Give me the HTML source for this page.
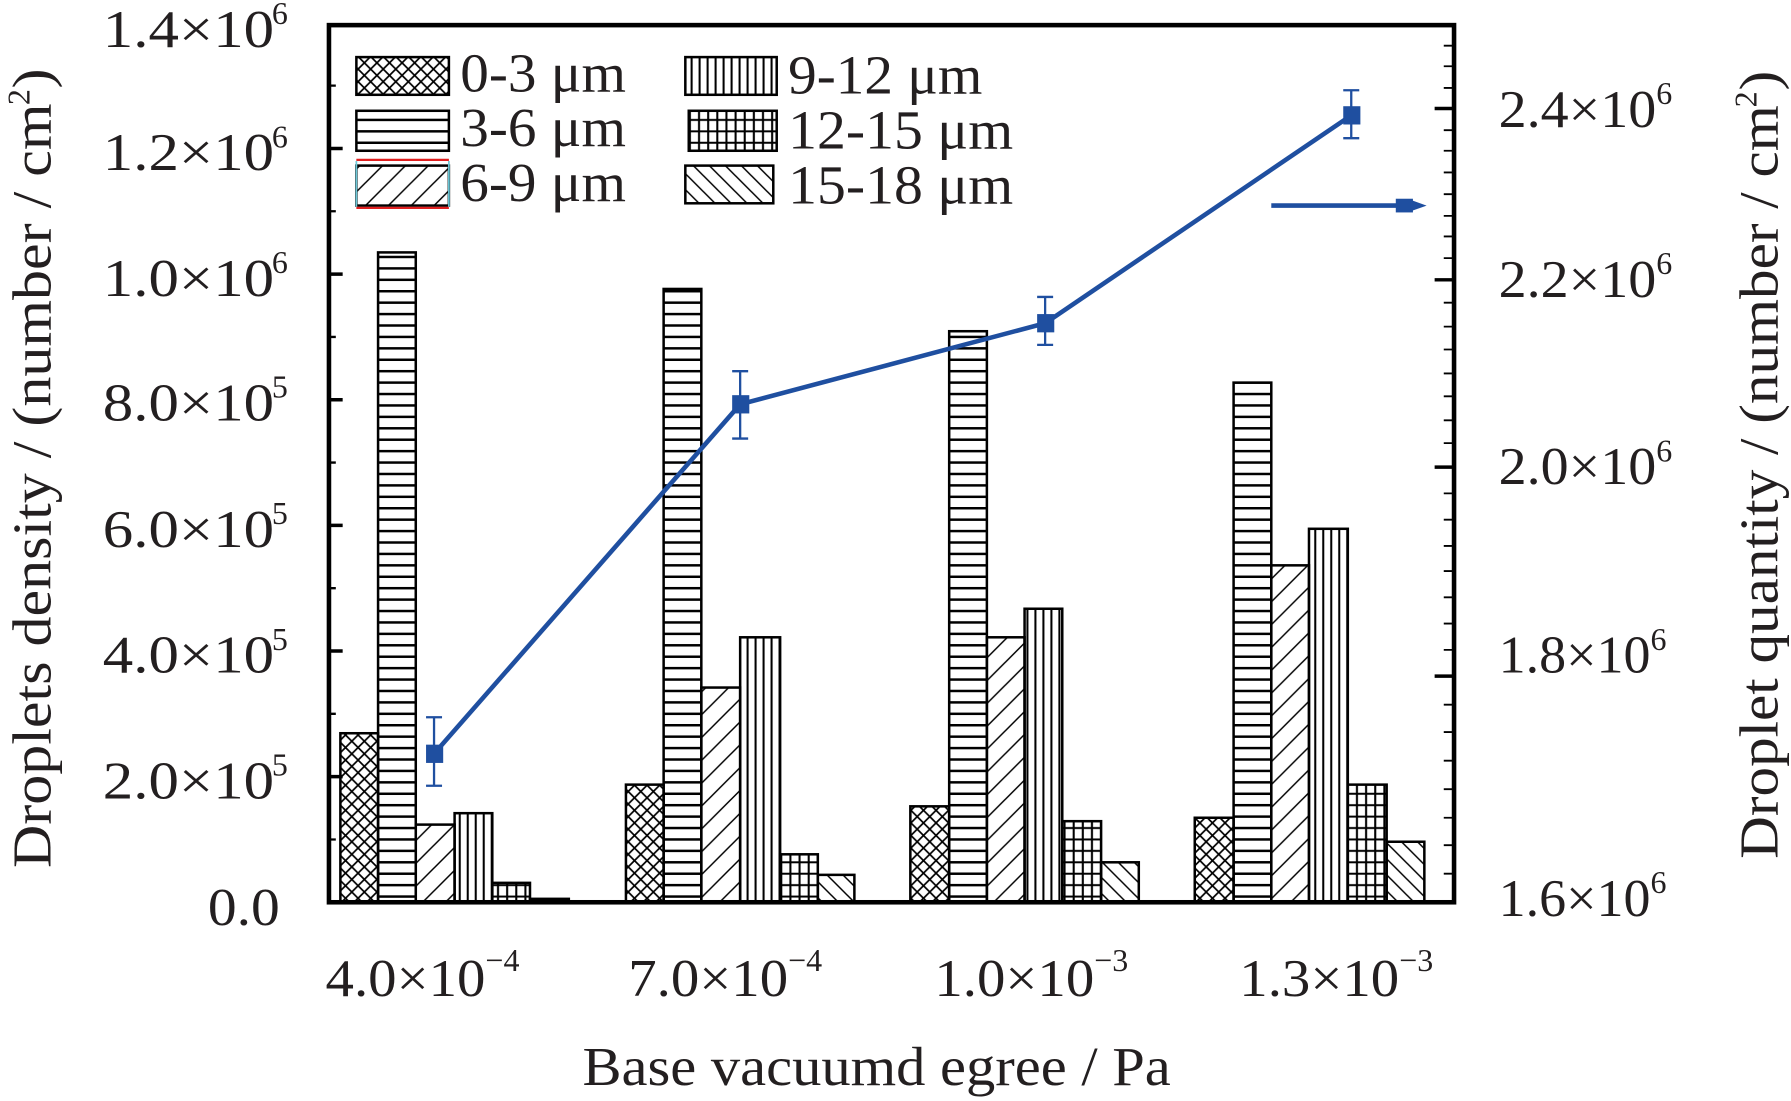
<!DOCTYPE html>
<html><head><meta charset="utf-8"><style>
html,body{margin:0;padding:0;background:#fff}
svg{display:block}
</style></head><body>
<svg width="1791" height="1101" viewBox="0 0 1568 964" preserveAspectRatio="none" xmlns="http://www.w3.org/2000/svg" font-family="'Liberation Serif', serif" fill="#231f20">
<defs>
<pattern id="cross" width="11" height="11" patternUnits="userSpaceOnUse"><path d="M0 0L11 11M11 0L0 11" stroke="#000" stroke-width="1.5"/></pattern>
<pattern id="hor" width="10" height="10" patternUnits="userSpaceOnUse"><path d="M0 5H10" stroke="#000" stroke-width="2.2"/></pattern>
<pattern id="diag" width="20" height="20" patternUnits="userSpaceOnUse"><path d="M0 20L20 0M-5 5L5 -5M15 25L25 15" stroke="#000" stroke-width="1.3"/></pattern>
<pattern id="vert" width="7" height="10" patternUnits="userSpaceOnUse"><path d="M3.5 0V10" stroke="#000" stroke-width="1.8"/></pattern>
<pattern id="grid" width="8" height="10" patternUnits="userSpaceOnUse"><path d="M4 0V10M0 5H8" stroke="#000" stroke-width="1.8"/></pattern>
<pattern id="back" width="14" height="14" patternUnits="userSpaceOnUse"><path d="M0 0L14 14M-7 7L7 21M7 -7L21 7" stroke="#000" stroke-width="1.3"/></pattern>
</defs>

<g stroke="#000" stroke-width="2.2">
<rect x="298" y="642" width="33" height="148" fill="url(#cross)"/>
<rect x="331" y="221" width="33" height="569" fill="url(#hor)"/>
<rect x="364" y="722" width="34" height="68" fill="url(#diag)"/>
<rect x="398" y="712" width="33" height="78" fill="url(#vert)"/>
<rect x="431" y="773" width="33" height="17" fill="url(#grid)"/>
<rect x="464" y="787" width="34" height="3" fill="url(#back)"/>
<rect x="548" y="687" width="33" height="103" fill="url(#cross)"/>
<rect x="581" y="253" width="33" height="537" fill="url(#hor)"/>
<rect x="614" y="602" width="34" height="188" fill="url(#diag)"/>
<rect x="648" y="558" width="35" height="232" fill="url(#vert)"/>
<rect x="683" y="748" width="33" height="42" fill="url(#grid)"/>
<rect x="716" y="766" width="32" height="24" fill="url(#back)"/>
<rect x="797" y="706" width="34" height="84" fill="url(#cross)"/>
<rect x="831" y="290" width="33" height="500" fill="url(#hor)"/>
<rect x="864" y="558" width="33" height="232" fill="url(#diag)"/>
<rect x="897" y="533" width="33" height="257" fill="url(#vert)"/>
<rect x="930" y="719" width="34" height="71" fill="url(#grid)"/>
<rect x="964" y="755" width="33" height="35" fill="url(#back)"/>
<rect x="1046" y="716" width="34" height="74" fill="url(#cross)"/>
<rect x="1080" y="335" width="33" height="455" fill="url(#hor)"/>
<rect x="1113" y="495" width="33" height="295" fill="url(#diag)"/>
<rect x="1146" y="463" width="34" height="327" fill="url(#vert)"/>
<rect x="1180" y="687" width="34" height="103" fill="url(#grid)"/>
<rect x="1214" y="737" width="33" height="53" fill="url(#back)"/>
</g>

<g stroke="#1f4fa0" fill="#1f4fa0">
<polyline points="380,660 648,354 915,283 1183,101" fill="none" stroke-width="4"/>
<g stroke-width="2">
<path d="M380 628V688M373 628H387M373 688H387"/>
<path d="M648 325V384M641 325H655M641 384H655"/>
<path d="M915 260V302M908 260H922M908 302H922"/>
<path d="M1183 79V121M1176 79H1190M1176 121H1190"/>
</g>
<rect x="373" y="652" width="15" height="16" stroke="none"/>
<rect x="641" y="346" width="15" height="16" stroke="none"/>
<rect x="908" y="275" width="15" height="16" stroke="none"/>
<rect x="1176" y="93" width="15" height="16" stroke="none"/>
<path d="M1113 180H1235" stroke-width="4"/>
<rect x="1222" y="174" width="15" height="12" stroke="none"/>
<path d="M1235 175L1249 180L1235 185Z" stroke="none"/>
</g>

<rect x="288" y="22" width="985" height="768" fill="none" stroke="#000" stroke-width="4"/>
<g stroke="#000" stroke-width="3">
<path d="M288 680H300M288 570H300M288 460H300M288 350H300M288 240H300M288 130H300"/>
<path d="M288 735H294M288 625H294M288 515H294M288 405H294M288 295H294M288 185H294M288 75H294" stroke-width="2"/>
<path d="M1273 95H1256M1273 245H1256M1273 409H1256M1273 592H1256"/>
</g>
<path stroke="#000" stroke-width="1.6" d="M1273 40H1264M1273 58H1264M1273 77H1264M1273 114H1264M1273 132H1264M1273 151H1264M1273 170H1264M1273 189H1264M1273 207H1264M1273 226H1264M1273 265H1264M1273 286H1264M1273 306H1264M1273 327H1264M1273 347H1264M1273 368H1264M1273 388H1264M1273 432H1264M1273 455H1264M1273 478H1264M1273 500H1264M1273 523H1264M1273 546H1264M1273 569H1264M1273 617H1264M1273 641H1264M1273 666H1264M1273 691H1264M1273 716H1264M1273 740H1264M1273 765H1264"/>

<g stroke="#000" stroke-width="2.2">
<rect x="312" y="50" width="81" height="33" fill="url(#cross)"/>
<rect x="312" y="97" width="81" height="35" fill="url(#hor)"/>
<rect x="312" y="145" width="81" height="35" fill="url(#diag)"/>
<rect x="600" y="50" width="80" height="33" fill="url(#vert)"/>
<rect x="603" y="97" width="77" height="35" fill="url(#grid)"/>
<rect x="600" y="145" width="77" height="33" fill="url(#back)"/>
</g>
<path d="M312 140H393M312 182H393" stroke="#e02020" stroke-width="2"/>
<path d="M312 141V181M393 141V181" stroke="#6cc8d8" stroke-width="1.5"/>
<g font-size="48">
<text x="403" y="80" textLength="145" lengthAdjust="spacingAndGlyphs">0-3 μm</text>
<text x="403" y="128" textLength="145" lengthAdjust="spacingAndGlyphs">3-6 μm</text>
<text x="403" y="176" textLength="145" lengthAdjust="spacingAndGlyphs">6-9 μm</text>
<text x="690" y="82" textLength="170" lengthAdjust="spacingAndGlyphs">9-12 μm</text>
<text x="690" y="130" textLength="197" lengthAdjust="spacingAndGlyphs">12-15 μm</text>
<text x="690" y="178" textLength="197" lengthAdjust="spacingAndGlyphs">15-18 μm</text>
</g>

<g font-size="46">
<text x="182" y="810" textLength="63" lengthAdjust="spacingAndGlyphs">0.0</text>
<text x="90" y="699" textLength="150" lengthAdjust="spacingAndGlyphs">2.0×10</text><text x="238" y="679" font-size="28">5</text>
<text x="90" y="589" textLength="150" lengthAdjust="spacingAndGlyphs">4.0×10</text><text x="238" y="569" font-size="28">5</text>
<text x="90" y="479" textLength="150" lengthAdjust="spacingAndGlyphs">6.0×10</text><text x="238" y="459" font-size="28">5</text>
<text x="90" y="368" textLength="150" lengthAdjust="spacingAndGlyphs">8.0×10</text><text x="238" y="348" font-size="28">5</text>
<text x="90" y="259" textLength="150" lengthAdjust="spacingAndGlyphs">1.0×10</text><text x="238" y="239" font-size="28">6</text>
<text x="90" y="149" textLength="150" lengthAdjust="spacingAndGlyphs">1.2×10</text><text x="238" y="129" font-size="28">6</text>
<text x="90" y="41" textLength="150" lengthAdjust="spacingAndGlyphs">1.4×10</text><text x="238" y="21" font-size="28">6</text>
<text x="1312" y="111" textLength="138" lengthAdjust="spacingAndGlyphs">2.4×10</text><text x="1450" y="91" font-size="28">6</text>
<text x="1312" y="260" textLength="138" lengthAdjust="spacingAndGlyphs">2.2×10</text><text x="1450" y="240" font-size="28">6</text>
<text x="1312" y="424" textLength="138" lengthAdjust="spacingAndGlyphs">2.0×10</text><text x="1450" y="404" font-size="28">6</text>
<text x="1312" y="589" textLength="133" lengthAdjust="spacingAndGlyphs">1.8×10</text><text x="1445" y="569" font-size="28">6</text>
<text x="1312" y="802" textLength="133" lengthAdjust="spacingAndGlyphs">1.6×10</text><text x="1445" y="782" font-size="28">6</text>
<text x="285" y="872" textLength="140" lengthAdjust="spacingAndGlyphs">4.0×10</text><text x="425" y="850" font-size="28">−4</text>
<text x="550" y="872" textLength="140" lengthAdjust="spacingAndGlyphs">7.0×10</text><text x="690" y="850" font-size="28">−4</text>
<text x="818" y="872" textLength="140" lengthAdjust="spacingAndGlyphs">1.0×10</text><text x="958" y="850" font-size="28">−3</text>
<text x="1085" y="872" textLength="140" lengthAdjust="spacingAndGlyphs">1.3×10</text><text x="1225" y="850" font-size="28">−3</text>
</g>
<text x="510" y="950" font-size="48" textLength="515" lengthAdjust="spacingAndGlyphs">Base vacuumd egree / Pa</text>
<g transform="translate(44,760) rotate(-90)"><text x="0" y="0" font-size="48" textLength="700" lengthAdjust="spacingAndGlyphs">Droplets density / (number / cm  )</text><text x="668" y="-18" font-size="28">2</text></g>
<g transform="translate(1556,752) rotate(-90)"><text x="0" y="0" font-size="48" textLength="690" lengthAdjust="spacingAndGlyphs">Droplet quantity / (number / cm  )</text><text x="658" y="-18" font-size="28">2</text></g>
</svg>
</body></html>
